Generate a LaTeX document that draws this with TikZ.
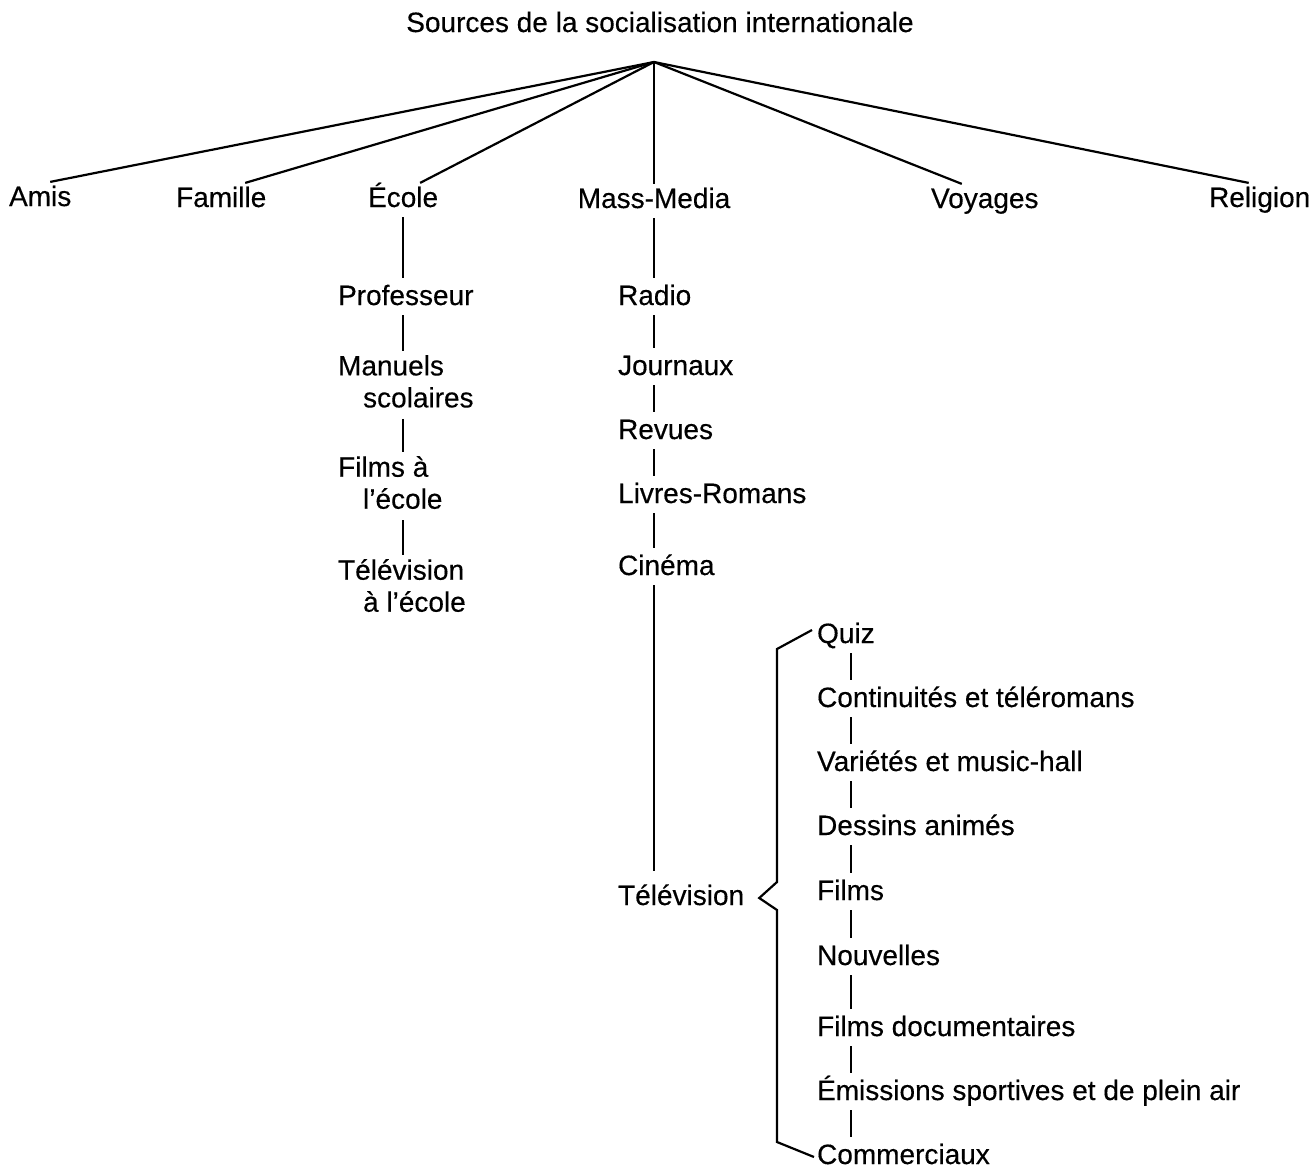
\documentclass[tikz,border=0pt]{standalone}
\usepackage{fontspec}
\setmainfont{Liberation Sans}[FakeBold=0.3]

\tikzset{
  item/.style={anchor=base west, inner xsep=0pt, inner ysep=3pt, text height=20pt, text depth=6pt},
  twoline/.style={anchor=north west, inner sep=0pt, align=left},
  link/.style={shorten >=3pt}
}

\begin{document}
\begin{tikzpicture}[x=1pt, y=-1pt, line width=2.2pt,
  every node/.style={font=\fontsize{28}{32}\selectfont}]
\useasboundingbox (0,0) rectangle (1312,1168);

 \node [anchor=base] (title) at (660,32) {Sources de la socialisation internationale};
 \coordinate (apex) at (654,62);

 \node [item] (amis) at (8,206) {Amis};
 \node [item] (famille) at (175,207) {Famille};
 \node [item] (ecole) at (367,207) {École};
 \node [item, anchor=base] (mass) at (654,208) {Mass-Media};
 \node [item] (voyages) at (930,208) {Voyages};
 \node [item] (religion) at (1208,207) {Religion};

\draw (apex)--([xshift=10pt]amis.north);
\draw (apex)--([xshift=24pt]famille.north);
\draw (apex)--([xshift=17pt]ecole.north);
\draw (apex)--(mass.north);
\draw (apex)--([xshift=-23pt]voyages.north);
\draw (apex)--([xshift=-11pt]religion.north);

% ecole
 \node [item] (prof) at (337,305) {Professeur};
 \node [twoline] (manuels) at (337,354) {Manuels\\\hspace*{25pt}scolaires};
 \node [twoline] (filmsec) at (337,455) {Films à\\\hspace*{25pt}l’école};
 \node [twoline] (telec) at (337,558) {Télévision\\\hspace*{25pt}à l’école};
\draw [link] (ecole.south)--(ecole.south |- prof.north);
\draw [link] (prof.south -| ecole.south)--(manuels.north -| ecole.south);
\draw [link] ([yshift=-10pt]manuels.south -| ecole.south)--(filmsec.north -| ecole.south);
\draw [link] ([yshift=-10pt]filmsec.south -| ecole.south)--(telec.north -| ecole.south);

% mass-media
 \node [item] (radio) at (617,305) {Radio};
 \node [item] (journaux) at (617,375) {Journaux};
 \node [item] (revues) at (617,439) {Revues};
 \node [item] (livres) at (617,503) {Livres-Romans};
 \node [item] (cinema) at (617,575) {Cinéma};
 \node [item] (tele) at (617,905) {Télévision};
\draw [link] (mass.south)--(mass.south |- radio.north);
\draw [link] (radio.south -| mass.south)--(journaux.north -| mass.south);
\draw [link] (journaux.south -| mass.south)--(revues.north -| mass.south);
\draw [link] (revues.south -| mass.south)--(livres.north -| mass.south);
\draw [link] (livres.south -| mass.south)--(cinema.north -| mass.south);
\draw [shorten >=10pt] (cinema.south -| mass.south)--(tele.north -| mass.south);

% television
\coordinate (tvline) at (851,0);
 \node [item] (quiz) at (816,643) {Quiz};
 \node [item] (cont) at (816,707) {Continuités et téléromans};
 \node [item] (var) at (816,771) {Variétés et music-hall};
 \node [item] (dessins) at (816,835) {Dessins animés};
 \node [item] (films) at (816,900) {Films};
 \node [item] (nouv) at (816,965) {Nouvelles};
 \node [item] (filmsdoc) at (816,1036) {Films documentaires};
 \node [item] (emis) at (816,1100) {Émissions sportives et de plein air};
 \node [item, text depth=0pt] (comm) at (816,1164) {Commerciaux};
\foreach \a/\b in {quiz/cont, cont/var, var/dessins, dessins/films, films/nouv,
                   nouv/filmsdoc, filmsdoc/emis, emis/comm}
  \draw [link] (\a.south -| tvline)--(\b.north -| tvline);

\draw [line join=miter] ([xshift=-4pt,yshift=6pt]quiz.west)--(777,649)--(777,882)--([xshift=14pt]tele.east)
      --(777,910)--(777,1142)--([xshift=-2pt,yshift=-3pt]comm.west);

\end{tikzpicture}
\end{document}
